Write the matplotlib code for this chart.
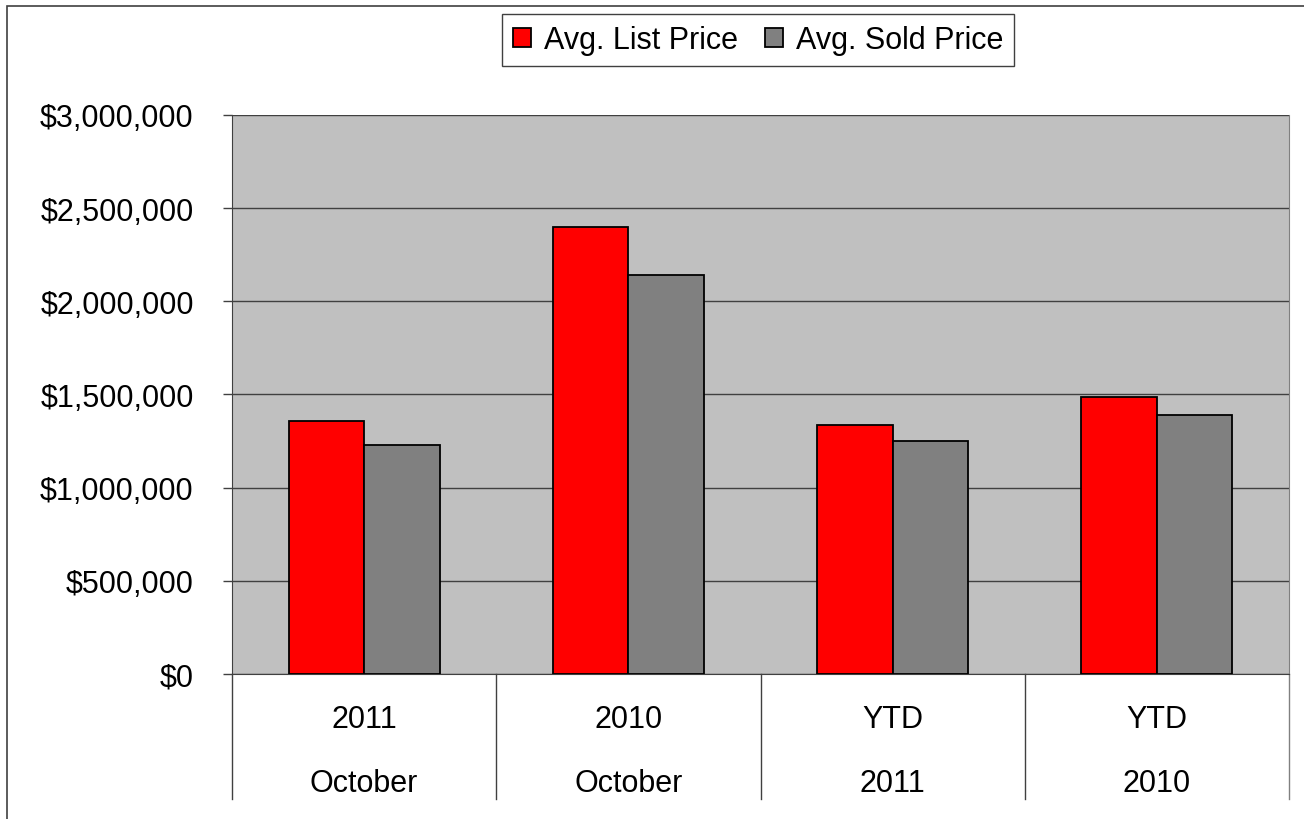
import matplotlib.pyplot as plt
import numpy as np
from matplotlib.patches import Rectangle, Patch
from matplotlib.ticker import FuncFormatter

plt.rcParams['font.family'] = ['Liberation Sans', 'DejaVu Sans']

# data
top_labels = ['2011', '2010', 'YTD', 'YTD']
bottom_labels = ['October', 'October', '2011', '2010']
list_price = [1358000, 2400000, 1336000, 1486000]
sold_price = [1229000, 2141000, 1252000, 1390000]
series_names = ['Avg. List Price', 'Avg. Sold Price']

fig = plt.figure(figsize=(13.04, 8.2), dpi=100)
ax = fig.add_axes([232/1304, 1 - 675/820, (1289-232)/1304, (675-116)/820])
ax.set_facecolor('#C0C0C0')

x = np.arange(len(top_labels))
w = 0.2857
ax.bar(x - w/2, list_price, w, color='#FF0000', edgecolor='black', linewidth=1.3, zorder=3)
ax.bar(x + w/2, sold_price, w, color='#808080', edgecolor='black', linewidth=1.3, zorder=3)

ax.set_xlim(-0.5, len(x) - 0.5)
ax.set_ylim(0, 3000000)
ax.set_yticks(np.arange(0, 3000001, 500000))
ax.yaxis.set_major_formatter(FuncFormatter(lambda v, p: '${:,.0f}'.format(v)))
ax.tick_params(axis='y', labelsize=22, length=6.5, width=1, color='#404040', pad=21)
ax.set_xticks([])
ax.grid(axis='y', color='#404040', linewidth=1, zorder=1)

ax.spines['top'].set_visible(False)
ax.spines['left'].set_color('#404040')
ax.spines['bottom'].set_color('#404040')
ax.spines['right'].set_color('#808080')

# category separators under the axis
tr = ax.get_xaxis_transform()
for b in np.arange(-0.5, len(x), 1.0):
    col = '#808080' if b == len(x) - 0.5 else '#404040'
    ax.plot([b, b], [0, -0.224], transform=tr, color=col, linewidth=1, clip_on=False)

for i in x:
    ax.text(i, -0.0805, top_labels[i], transform=tr, ha='center', va='center', fontsize=22)
    ax.text(i, -0.195, bottom_labels[i], transform=tr, ha='center', va='center', fontsize=22)

# legend
handles = [Patch(facecolor='#FF0000', edgecolor='black', linewidth=1.3),
           Patch(facecolor='#808080', edgecolor='black', linewidth=1.3)]
leg = fig.legend(handles, series_names, loc='center', bbox_to_anchor=(758/1304, 1 - 41/820),
                 ncol=2, fontsize=22, fancybox=False, framealpha=1, edgecolor='#404040',
                 handlelength=0.6, handleheight=0.6, handletextpad=0.4, columnspacing=0.9,
                 borderpad=0.35, borderaxespad=0)
leg.get_frame().set_linewidth(1)

# outer chart border (left and top visible)
fig.add_artist(Rectangle((7/1304, -0.5), 2, 0.5 + 1 - 7/820, transform=fig.transFigure,
                         fill=False, edgecolor='#404040', linewidth=1.2))

fig.savefig('out.png', dpi=100)
